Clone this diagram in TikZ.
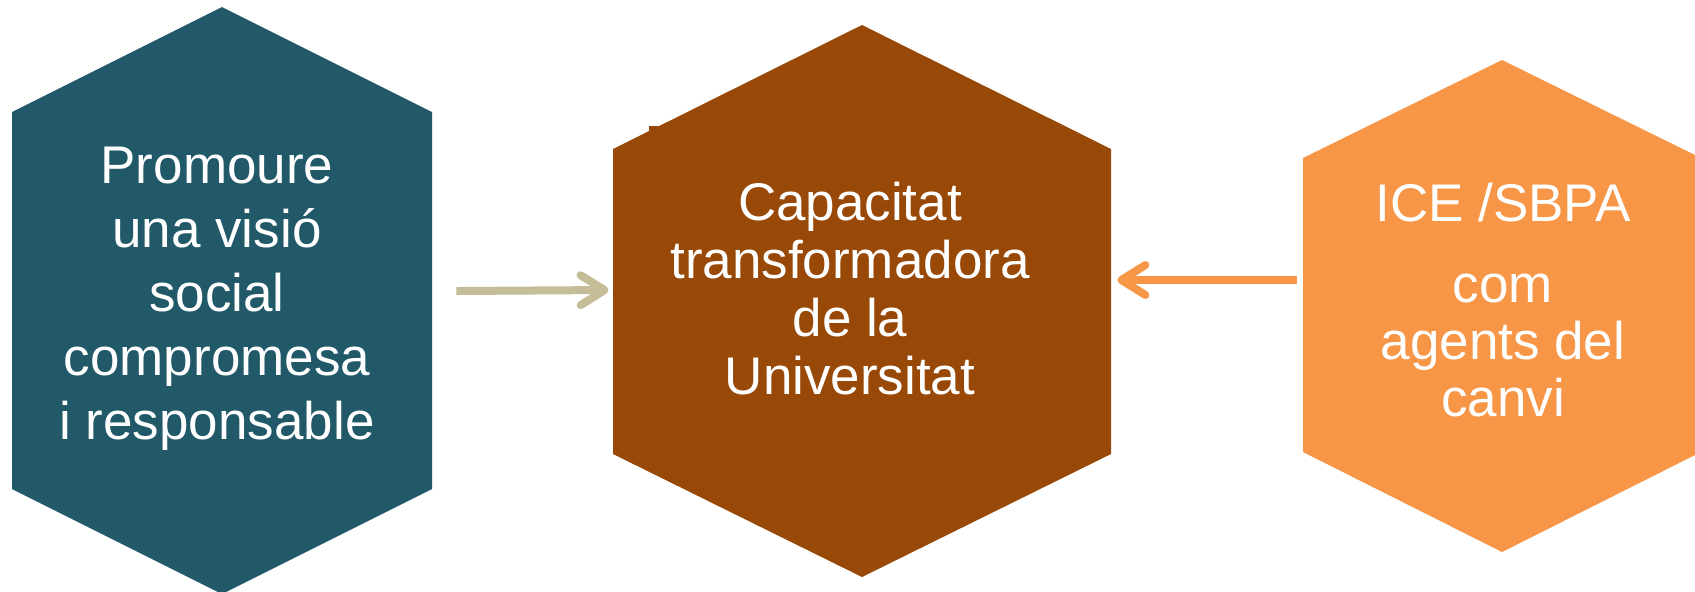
\documentclass[tikz,border=0pt]{standalone}
\usepackage{fontspec}
\setmainfont{Liberation Sans}
\usetikzlibrary{arrows.meta}
\definecolor{teal}{RGB}{33,89,104}
\definecolor{rust}{RGB}{152,72,7}
\definecolor{lightorange}{RGB}{247,150,70}
\definecolor{tan}{RGB}{196,189,151}
\tikzset{
  hexlabel/.style={text=white, align=center, inner sep=0pt, anchor=base},
  hexbox/.style={draw=none, inner sep=0pt, minimum height=10pt},
  connector/.style={line width=4pt, -{Straight Barb[length=12pt, width=15pt, round]}},
}
\begin{document}
\begin{tikzpicture}[x=0.5pt,y=-0.5pt]
\useasboundingbox (0,0) rectangle (1695,591);
% hexagons
\fill[teal] (222,7) -- (432,112) -- (432,489) -- (222,594) -- (12,489) -- (12,112) -- cycle;
\fill[rust] (862,25) -- (1111,149) -- (1111,454) -- (862,577) -- (613,454) -- (613,149) -- cycle;
\fill[rust] (649,126) rectangle (661,136);
\fill[lightorange] (1502,60) -- (1701,158) -- (1701,452) -- (1502,552) -- (1303,452) -- (1303,158) -- cycle;
% anchor boxes for connectors
\node[hexbox, minimum width=210pt] (h1) at (222,291) {};
\node[hexbox, minimum width=249pt] (h2) at (862,291) {};
\node[hexbox, minimum width=199pt] (h3) at (1502,281) {};
% labels (anchored at the baseline of the last line)
\node[hexlabel, font=\fontsize{26.5}{32}\selectfont] (t1) at (217,439)
  {Promoure\\una visió\\social\\compromesa\\i responsable};
\node[hexlabel, font=\fontsize{26.5}{29}\selectfont] (t2) at (850,394)
  {Capacitat\\transformadora\\de la\\Universitat};
\node[hexlabel, font=\fontsize{26.5}{28.5}\selectfont] (t3) at (1503,416)
  {ICE /SBPA\\[12pt]com\\agents del\\canvi};
% connectors
\draw[connector, tan] ([xshift=12pt]h1.east |- 0,291) -- ([xshift=-2pt]h2.west |- 0,290);
\draw[connector, lightorange] ([xshift=-3pt]h3.west |- 0,280) -- ([xshift=3pt]h2.east |- 0,280);
\end{tikzpicture}
\end{document}
